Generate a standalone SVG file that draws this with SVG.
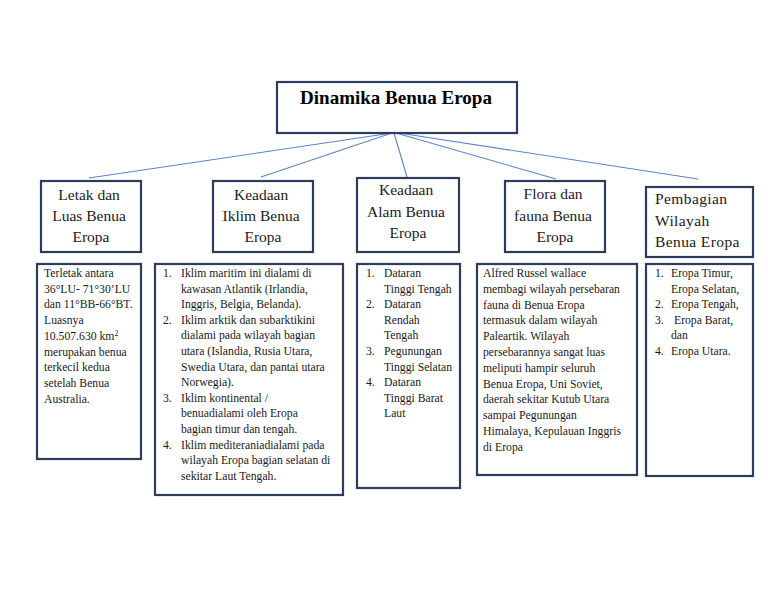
<svg xmlns="http://www.w3.org/2000/svg" width="768" height="594" viewBox="0 0 768 594">
<style>
  .box { fill: #ffffff; stroke: #2d3c5a; stroke-width: 2.2; }
  .conn { stroke: #5b85c0; stroke-width: 1.1; fill: none; }
  .title { font-family: "Liberation Serif", "Times New Roman", serif; font-size: 19px; font-weight: bold; fill: #000; }
  .head { font-family: "Liberation Serif", "Times New Roman", serif; font-size: 15.5px; fill: #1a1a1a; }
  .body { font-family: "Liberation Serif", "Times New Roman", serif; font-size: 11.7px; fill: #1a1a1a; }
</style>
<rect width="768" height="594" fill="#ffffff"/>

<g id="connectors">
  <line class="conn" x1="392" y1="133" x2="89" y2="178"/>
  <line class="conn" x1="392" y1="133" x2="261" y2="177"/>
  <line class="conn" x1="394" y1="133" x2="407" y2="177"/>
  <line class="conn" x1="396" y1="133" x2="556" y2="179"/>
  <line class="conn" x1="399" y1="133" x2="698" y2="179"/>
</g>

<g id="title">
  <rect class="box" x="277" y="82" width="240" height="51"/>
  <text class="title" x="396" y="104" text-anchor="middle">Dinamika Benua Eropa</text>
</g>

<g id="letak">
  <rect class="box" x="41" y="181" width="100" height="71"/>
  <text class="head" text-anchor="middle">
    <tspan x="91" y="200">Letak dan</tspan>
    <tspan x="91" y="221">Luas  Benua</tspan>
    <tspan x="91" y="242">Eropa</tspan>
  </text>
</g>

<g id="iklim">
  <rect class="box" x="213" y="181" width="100" height="71"/>
  <text class="head" text-anchor="middle">
    <tspan x="263" y="200">Keadaan</tspan>
    <tspan x="263" y="221">Iklim Benua</tspan>
    <tspan x="263" y="242">Eropa</tspan>
  </text>
</g>

<g id="alam">
  <rect class="box" x="357" y="178" width="102" height="74"/>
  <text class="head" text-anchor="middle">
    <tspan x="408" y="195">Keadaan</tspan>
    <tspan x="408" y="216.5">Alam  Benua</tspan>
    <tspan x="408" y="238">Eropa</tspan>
  </text>
</g>

<g id="flora">
  <rect class="box" x="505" y="181" width="100" height="71"/>
  <text class="head" text-anchor="middle">
    <tspan x="555" y="199">Flora dan</tspan>
    <tspan x="555" y="220.5">fauna Benua</tspan>
    <tspan x="555" y="241.5">Eropa</tspan>
  </text>
</g>

<g id="pembagian">
  <rect class="box" x="646" y="187" width="107" height="70"/>
  <text class="head" letter-spacing="0.4">
    <tspan x="655" y="204">Pembagian</tspan>
    <tspan x="655" y="225.5">Wilayah</tspan>
    <tspan x="655" y="246.5">Benua  Eropa</tspan>
  </text>
</g>

<g id="letak-detail">
  <rect class="box" x="37" y="264" width="104" height="195"/>
  <text class="body">
    <tspan x="44" y="277">Terletak antara</tspan>
    <tspan x="44" y="292.7">36°LU- 71°30’LU</tspan>
    <tspan x="44" y="308.4">dan 11°BB-66°BT.</tspan>
    <tspan x="44" y="324.1">Luasnya</tspan>
    <tspan x="44" y="339.8">10.507.630 km<tspan font-size="7.5" dy="-4">2</tspan></tspan>
    <tspan x="44" y="355.5">merupakan benua</tspan>
    <tspan x="44" y="371.2">terkecil kedua</tspan>
    <tspan x="44" y="386.9">setelah Benua</tspan>
    <tspan x="44" y="402.6">Australia.</tspan>
  </text>
</g>

<g id="iklim-detail">
  <rect class="box" x="155" y="264" width="188" height="231"/>
  <text class="body">
    <tspan x="163" y="277">1.</tspan><tspan x="181" y="277">Iklim maritim ini dialami di</tspan>
    <tspan x="181" y="292.6">kawasan Atlantik (Irlandia,</tspan>
    <tspan x="181" y="308.2">Inggris, Belgia, Belanda).</tspan>
    <tspan x="163" y="323.8">2.</tspan><tspan x="181" y="323.8">Iklim arktik dan subarktikini</tspan>
    <tspan x="181" y="339.4">dialami pada wilayah bagian</tspan>
    <tspan x="181" y="355">utara (Islandia, Rusia Utara,</tspan>
    <tspan x="181" y="370.6">Swedia Utara, dan pantai utara</tspan>
    <tspan x="181" y="386.2">Norwegia).</tspan>
    <tspan x="163" y="401.8">3.</tspan><tspan x="181" y="401.8">Iklim kontinental /</tspan>
    <tspan x="181" y="417.4">benuadialami oleh Eropa</tspan>
    <tspan x="181" y="433">bagian timur dan tengah.</tspan>
    <tspan x="163" y="448.6">4.</tspan><tspan x="181" y="448.6">Iklim mediteraniadialami pada</tspan>
    <tspan x="181" y="464.2">wilayah Eropa bagian selatan di</tspan>
    <tspan x="181" y="479.8">sekitar Laut Tengah.</tspan>
  </text>
</g>

<g id="alam-detail">
  <rect class="box" x="357" y="264" width="103" height="224"/>
  <text class="body">
    <tspan x="366" y="277">1.</tspan><tspan x="384" y="277">Dataran</tspan>
    <tspan x="384" y="292.6">Tinggi Tengah</tspan>
    <tspan x="366" y="308.2">2.</tspan><tspan x="384" y="308.2">Dataran</tspan>
    <tspan x="384" y="323.8">Rendah</tspan>
    <tspan x="384" y="339.4">Tengah</tspan>
    <tspan x="366" y="355">3.</tspan><tspan x="384" y="355">Pegunungan</tspan>
    <tspan x="384" y="370.6">Tinggi Selatan</tspan>
    <tspan x="366" y="386.2">4.</tspan><tspan x="384" y="386.2">Dataran</tspan>
    <tspan x="384" y="401.8">Tinggi Barat</tspan>
    <tspan x="384" y="417.4">Laut</tspan>
  </text>
</g>

<g id="flora-detail">
  <rect class="box" x="477" y="264" width="160" height="211"/>
  <text class="body">
    <tspan x="483" y="277">Alfred Russel wallace</tspan>
    <tspan x="483" y="292.8">membagi wilayah persebaran</tspan>
    <tspan x="483" y="308.6">fauna di Benua Eropa</tspan>
    <tspan x="483" y="324.4">termasuk dalam wilayah</tspan>
    <tspan x="483" y="340.2">Paleartik. Wilayah</tspan>
    <tspan x="483" y="356">persebarannya sangat luas</tspan>
    <tspan x="483" y="371.8">meliputi hampir seluruh</tspan>
    <tspan x="483" y="387.6">Benua Eropa, Uni Soviet,</tspan>
    <tspan x="483" y="403.4">daerah sekitar Kutub Utara</tspan>
    <tspan x="483" y="419.2">sampai Pegunungan</tspan>
    <tspan x="483" y="435">Himalaya, Kepulauan Inggris</tspan>
    <tspan x="483" y="450.8">di Eropa</tspan>
  </text>
</g>

<g id="pembagian-detail">
  <rect class="box" x="646" y="264" width="107" height="212"/>
  <text class="body">
    <tspan x="655" y="277">1.</tspan><tspan x="671" y="277">Eropa Timur,</tspan>
    <tspan x="671" y="292.6">Eropa Selatan,</tspan>
    <tspan x="655" y="308.2">2.</tspan><tspan x="671" y="308.2">Eropa Tengah,</tspan>
    <tspan x="655" y="323.8">3.</tspan><tspan x="674" y="323.8">Eropa Barat,</tspan>
    <tspan x="671" y="339.4">dan</tspan>
    <tspan x="655" y="355">4.</tspan><tspan x="671" y="355">Eropa Utara.</tspan>
  </text>
</g>
</svg>
